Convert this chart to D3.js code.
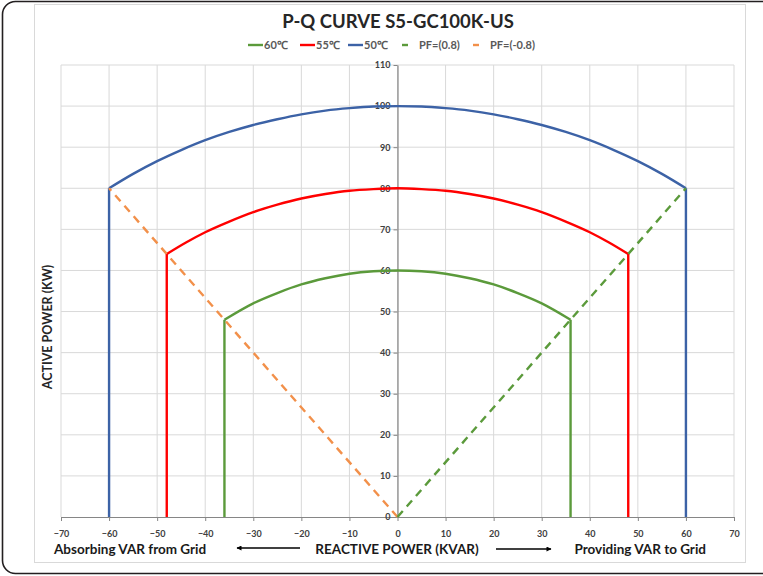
<!DOCTYPE html>
<html><head><meta charset="utf-8">
<script src="https://cdn.jsdelivr.net/npm/d3@7"></script>
<style>body{margin:0;background:#fff;}svg{display:block;}</style>
</head><body>
<svg id="c" width="763" height="576"></svg>
<script>
// ---- data ----
const title = "P-Q CURVE S5-GC100K-US";
const qTicks = [-70,-60,-50,-40,-30,-20,-10,0,10,20,30,40,50,60,70];
const pTicks = [0,10,20,30,40,50,60,70,80,90,100,110];

const q60 = [-36,-30,-25,-20,-15,-10,-5,0,5,10,15,20,25,30,36];
const p60 = [48,52.0,54.5,56.6,58.1,59.2,59.8,60,59.8,59.2,58.1,56.6,54.5,52.0,48];
const q55 = [-48,-44,-40,-35,-30,-25,-20,-15,-10,-5,0,5,10,15,20,25,30,35,40,44,48];
const p55 = [64,66.8,69.3,71.9,74.2,76.0,77.5,78.6,79.4,79.8,80,79.8,79.4,78.6,77.5,76.0,74.2,71.9,69.3,66.8,64];
const q50 = [-60,-55,-50,-45,-40,-35,-30,-25,-20,-15,-10,-5,0,5,10,15,20,25,30,35,40,45,50,55,60];
const p50 = [80,83.5,86.6,89.3,91.7,93.7,95.4,96.8,98.0,98.9,99.5,99.9,100,99.9,99.5,98.9,98.0,96.8,95.4,93.7,91.7,89.3,86.6,83.5,80];
const pfPosQ = [0,60], pfPosP = [0,80];
const pfNegQ = [0,-60], pfNegP = [0,80];

const seriesNames = ["60℃","55℃","50℃","PF=(0.8)","PF=(-0.8)"];
const colors = ["#5B9A3B","#FF0000","#3C62A6","#5B9A3B","#F2904A"];

// ---- layout ----
const svg = d3.select("#c");
const x = d3.scaleLinear().domain([-70,70]).range([61,734]);
const y = d3.scaleLinear().domain([0,110]).range([517,65]);
const font = "Lato, 'Open Sans', sans-serif";

// outer rounded frame
svg.append("rect").attr("x",2.5).attr("y",1.5).attr("width",775).attr("height",572)
  .attr("rx",13).attr("fill","#fff").attr("stroke","#231f20").attr("stroke-width",1.6);
// chart area border
svg.append("rect").attr("x",34.5).attr("y",4.5).attr("width",711).attr("height",558)
  .attr("fill","#fff").attr("stroke","#d9d9d9").attr("stroke-width",1);

// gridlines
const g = svg.append("g");
g.selectAll("line.v").data(qTicks).join("line")
  .attr("x1",d=>x(d)).attr("x2",d=>x(d)).attr("y1",y(110)).attr("y2",y(0))
  .attr("stroke","#d9d9d9").attr("stroke-width",1);
g.selectAll("line.h").data(pTicks.filter(d=>d>0)).join("line")
  .attr("x1",x(-70)).attr("x2",x(70)).attr("y1",d=>y(d)).attr("y2",d=>y(d))
  .attr("stroke","#d9d9d9").attr("stroke-width",1);

// axes
const xAxis = d3.axisBottom(x).tickValues(qTicks).tickSize(4).tickSizeOuter(0);
const yAxis = d3.axisLeft(y).tickValues(pTicks).tickSize(4).tickSizeOuter(0);
const gx = svg.append("g").attr("transform",`translate(0,${y(0)})`).call(xAxis);
const gy = svg.append("g").attr("transform",`translate(${x(0)},0)`).call(yAxis);
[gx,gy].forEach(a=>{
  a.selectAll("path.domain").attr("stroke","#868686").attr("stroke-width",1.2);
  a.selectAll(".tick line").attr("stroke","#868686");
  a.selectAll("text").attr("fill","#404040").style("font-family",font)
   .style("font-size","9px").style("font-weight","bold");
});
gx.selectAll("text").attr("dy","1.4em");
gy.selectAll("text").attr("x",-7);

// series
const lineGen = d3.line().x(d=>x(d[0])).y(d=>y(d[1]));
const arcGen = d3.line().x(d=>x(d[0])).y(d=>y(d[1])).curve(d3.curveMonotoneX);
function zip(a,b){return a.map((v,i)=>[v,b[i]]);}
const arcs = [[q60,p60,colors[0]],[q55,p55,colors[1]],[q50,p50,colors[2]]];
arcs.forEach(([qs,ps,c])=>{
  const pts = zip(qs,ps);
  svg.append("path").attr("d",arcGen(pts)).attr("fill","none").attr("stroke",c).attr("stroke-width",2.4);
  const first = pts[0], last = pts[pts.length-1];
  svg.append("path").attr("d",lineGen([[first[0],0],first])).attr("fill","none").attr("stroke",c).attr("stroke-width",2.4);
  svg.append("path").attr("d",lineGen([last,[last[0],0]])).attr("fill","none").attr("stroke",c).attr("stroke-width",2.4);
});
svg.append("path").attr("d",lineGen(zip(pfNegQ,pfNegP))).attr("fill","none")
  .attr("stroke",colors[4]).attr("stroke-width",2.4).attr("stroke-dasharray","8,6");
svg.append("path").attr("d",lineGen(zip(pfPosQ,pfPosP))).attr("fill","none")
  .attr("stroke",colors[3]).attr("stroke-width",2.4).attr("stroke-dasharray","8,6");

// title
svg.append("text").attr("x",398).attr("y",28).attr("text-anchor","middle")
  .style("font-family",font).style("font-size","18.5px").style("font-weight","bold")
  .attr("fill","#262626").text(title);

// legend
const legX = [248,300,348,402,473];
const leg = svg.append("g");
seriesNames.forEach((n,i)=>{
  const dashed = i>=3;
  const lx = legX[i];
  leg.append("line").attr("x1",lx).attr("x2",dashed?lx+6:lx+15).attr("y1",45).attr("y2",45)
    .attr("stroke",colors[i]).attr("stroke-width",2.4);
  leg.append("text").attr("x",dashed?lx+17:lx+16).attr("y",49)
    .style("font-family",font).style("font-size","11px").style("font-weight","bold")
    .attr("fill","#595959").text(n);
});

// axis titles
svg.append("text").attr("transform","translate(52,327) rotate(-90)").attr("text-anchor","middle")
  .style("font-family",font).style("font-size","12.5px").style("font-weight","bold")
  .attr("fill","#262626").text("ACTIVE POWER  (KW)");
const bt = (tx,anchor,s)=>svg.append("text").attr("x",tx).attr("y",554).attr("text-anchor",anchor)
  .style("font-family",font).style("font-size","13.5px").style("font-weight","bold")
  .attr("fill","#1a1a1a").text(s);
bt(54,"start","Absorbing VAR from Grid");
bt(397,"middle","REACTIVE POWER (KVAR)");
bt(706,"end","Providing VAR to Grid");

// arrows
const defs = svg.append("defs");
defs.append("marker").attr("id","ah").attr("viewBox","0 0 10 10").attr("refX",9).attr("refY",5)
  .attr("markerWidth",6).attr("markerHeight",5).attr("orient","auto").attr("markerUnits","userSpaceOnUse")
  .append("path").attr("d","M0,0L10,5L0,10z").attr("fill","#000");
svg.append("line").attr("x1",300).attr("x2",237).attr("y1",548).attr("y2",548)
  .attr("stroke","#000").attr("stroke-width",1.5).attr("marker-end","url(#ah)");
svg.append("line").attr("x1",496).attr("x2",551).attr("y1",549).attr("y2",549)
  .attr("stroke","#000").attr("stroke-width",1.5).attr("marker-end","url(#ah)");
</script>
</body></html>
